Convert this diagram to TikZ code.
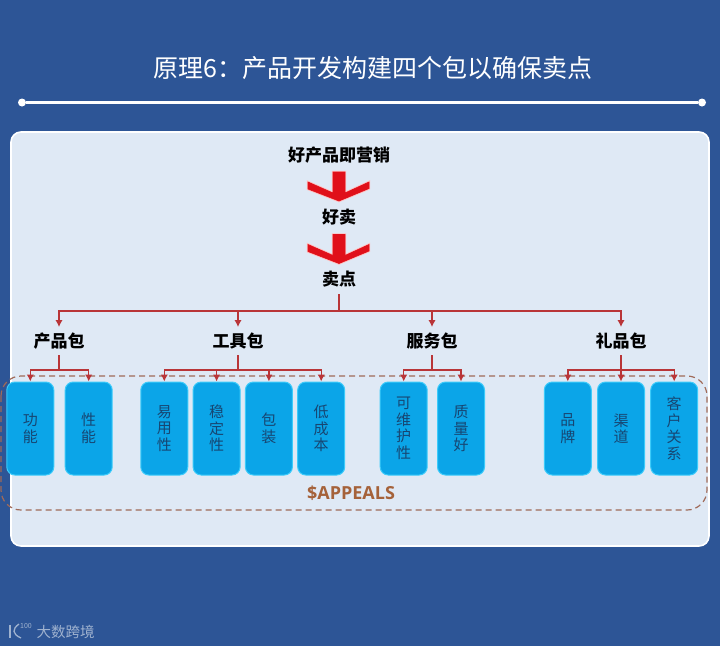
\documentclass[tikz,border=0pt]{standalone}
\usepackage{fontspec}
\setmainfont{Noto Sans CJK SC}
\newfontfamily\latinbold{Open Sans}
\usepackage{xcolor}
\usetikzlibrary{arrows.meta,positioning,calc}
\definecolor{slide}{HTML}{2D5596}
\definecolor{panel}{HTML}{DFE9F5}
\definecolor{sky}{HTML}{0BA5E8}
\definecolor{skyglow}{HTML}{3CCBFA}
\definecolor{inkblue}{HTML}{174672}
\definecolor{wire}{HTML}{B93538}
\definecolor{dashbrown}{HTML}{A06A58}
\definecolor{rust}{HTML}{A5623A}
\definecolor{brandgrey}{HTML}{9FB2CF}
\definecolor{chevred}{HTML}{E0101A}
\tikzset{
  head/.style={font=\fontsize{17}{18}\selectfont\bfseries,text=black,inner sep=0pt,minimum height=30pt,outer sep=0pt},
  pack/.style={font=\fontsize{17}{18}\selectfont\bfseries,text=black,inner sep=0pt,minimum height=28pt,outer sep=0pt},
  leaf/.style={draw=skyglow,line width=1pt,fill=sky,rounded corners=8pt,minimum width=47pt,minimum height=93pt,inner sep=0pt,outer sep=0.5pt,align=center,text=inkblue,font=\fontsize{15}{16.5}\selectfont},
  trunk/.style={wire,line width=1.4pt,-{Latex[length=7pt,width=7.5pt]}},
  chevron/.pic={\path[fill=chevred,draw=chevred,line width=0.6pt,preaction={draw=red!25,line width=2.4pt}] (-31,-19) -- (-6,-8) -- (-6,-29) -- (6,-29) -- (6,-8) -- (30,-19) -- (30,-12.5) -- (0,0) -- (-31,-12) -- cycle;}
}
\begin{document}
\begin{tikzpicture}[x=1pt,y=-1pt]
\useasboundingbox (0,0) rectangle (720,646);
\fill[slide] (0,0) rectangle (720,646);
% title and rule
\node[text=white,inner sep=0pt,font=\fontsize{25}{28}\selectfont] (title) at (373,68) {原理6：产品开发构建四个包以确保卖点};
\node[circle,fill=white,minimum size=8pt,inner sep=0pt] (ruleL) at (22,102.5) {};
\node[circle,fill=white,minimum size=8pt,inner sep=0pt] (ruleR) at (702,102.5) {};
\draw[white,line width=2.6pt] (ruleL) -- (ruleR);
% panel
\draw[white,fill=panel,line width=1.6pt,rounded corners=10pt] (11,132) rectangle (709,546);
% top of the chain
\node[head] (good) at (339,155) {好产品即营销};
\node[head] (sells) at (339,217) {好卖};
\node[head] (point) at (339,279) {卖点};
\pic at (339,201) {chevron};
\pic at (339,263.5) {chevron};
% dashed frame
\draw[dashbrown,line width=1.2pt,dash pattern=on 6pt off 4pt,rounded corners=20pt] (1,376) rectangle (707,510);
\node[font=\latinbold\fontsize{18}{20}\selectfont\bfseries,text=rust,inner sep=0pt] (appeals) at (351,493) {\$APPEALS};
% packs
\node[pack] (packA) at (59,341) {产品包};
\node[pack] (packB) at (238,341) {工具包};
\node[pack] (packC) at (432,341) {服务包};
\node[pack] (packD) at (621,341) {礼品包};
\coordinate (hub) at (339,311);
\draw[wire,line width=1.4pt] (point.south) -- (hub);
\foreach \p in {packA,packB,packC,packD}
  \draw[trunk] (hub) -| (\p.north);
% leaves
\node[leaf] (gongneng) at (30.3,428.5) {功\\能};
\node[leaf,right=10.4pt of gongneng] (xingneng) {性\\能};
\node[leaf] (yiyong) at (164.3,428.5) {易\\用\\性};
\node[leaf,right=4.3pt of yiyong] (wending) {稳\\定\\性};
\node[leaf,right=4.3pt of wending] (baozhuang) {包\\装};
\node[leaf,right=4.3pt of baozhuang] (dichengben) {低\\成\\本};
\node[leaf] (weihu) at (403.7,428.5) {可\\维\\护\\性};
\node[leaf,right=9.3pt of weihu] (zhiliang) {质\\量\\好};
\node[leaf] (pinpai) at (567.8,428.5) {品\\牌};
\node[leaf,right=5.2pt of pinpai] (qudao) {渠\\道};
\node[leaf,right=5.2pt of qudao] (kehu) {客\\户\\关\\系};
\foreach \a/\b in {packA/gongneng,packA/xingneng,packB/yiyong,packB/wending,packB/baozhuang,packB/dichengben,packC/weihu,packC/zhiliang,packD/pinpai,packD/qudao,packD/kehu}
  \draw[trunk] (\a.south) -- ++(0,15) -| (\b.north);
% watermark
\node[text=brandgrey,inner sep=0pt,font=\fontsize{14.5}{16}\selectfont] (brand) at (65.5,632) {大数跨境};
\node[text=brandgrey,inner sep=0pt,font=\fontsize{7}{8}\selectfont] (logo) at (26,626) {100};
\draw[brandgrey,line width=1.3pt] (10,625) -- (10,638);
\draw[brandgrey,line width=1.3pt] (19,624) .. controls (12,629) and (12,634) .. (21,638);
\end{tikzpicture}
\end{document}
